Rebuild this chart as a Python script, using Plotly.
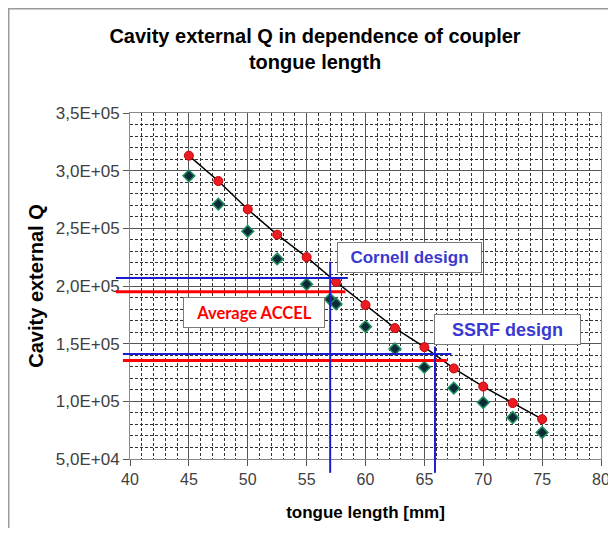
import plotly.graph_objects as go

# =====================================================
# Data
# =====================================================
tongue_len = [45, 47.5, 50, 52.5, 55, 57.5, 60, 62.5, 65, 67.5, 70, 72.5, 75]
q_red = [313000, 291000, 266500, 244500, 225000, 203500, 183500,
         163500, 147000, 128500, 112800, 98500, 84500]

tongue_len_green = [45, 47.5, 50, 52.5, 55, 57, 57.5, 60, 62.5, 65, 67.5, 70, 72.5, 75]
q_green = [295500, 271000, 247500, 223500, 201500, 188500, 184500,
           164800, 145500, 129500, 111500, 99000, 86000, 73000]

# reference levels (horizontal) and where they stop on the length axis
ref_q = [207000, 195000, 141000, 135500]
ref_q_end = [58.5, 58.3, 67.3, 66.9]
ref_q_color = ["#1c1ccf", "#ff0000", "#1c1ccf", "#ff0000"]

# reference lengths (vertical) and where they start on the Q axis
ref_len = [57.0, 65.9]
ref_len_top = [221000, 147500]

x_ticks = [40, 45, 50, 55, 60, 65, 70, 75, 80]
y_ticks = [50000, 100000, 150000, 200000, 250000, 300000, 350000]
y_tick_text = ["5,0E+04", "1,0E+05", "1,5E+05", "2,0E+05",
               "2,5E+05", "3,0E+05", "3,5E+05"]

X_RANGE = [40, 80]
Y_RANGE = [50000, 350000]


def x_dom(v):
    return (v - X_RANGE[0]) / (X_RANGE[1] - X_RANGE[0])


def y_dom(v):
    return (v - Y_RANGE[0]) / (Y_RANGE[1] - Y_RANGE[0])


fig = go.Figure()

fig.add_trace(
    go.Scatter(
        x=tongue_len_green,
        y=q_green,
        mode="markers",
        marker=dict(symbol="diamond", size=9, color="#0d2a38",
                    line=dict(color="#1f8f5c", width=1.5)),
        showlegend=False
    )
)

fig.add_trace(
    go.Scatter(
        x=tongue_len,
        y=q_red,
        mode="lines+markers",
        line=dict(color="black", width=1.5),
        marker=dict(size=9, color="#ea1c22",
                    line=dict(color="#c40000", width=1)),
        showlegend=False
    )
)

# =====================================================
# Reference lines
# =====================================================
shapes = []
for i in range(len(ref_q)):
    start = -0.03 if i < 2 else -0.015
    shapes.append(dict(
        type="line", xref="x domain", yref="y",
        x0=start, x1=x_dom(ref_q_end[i]), y0=ref_q[i], y1=ref_q[i],
        line=dict(color=ref_q_color[i], width=3 if ref_q_color[i] == "#ff0000" else 2)
    ))

for i in range(len(ref_len)):
    shapes.append(dict(
        type="line", xref="x", yref="y domain",
        x0=ref_len[i], x1=ref_len[i], y0=-0.04, y1=y_dom(ref_len_top[i]),
        line=dict(color="#1c1ccf", width=2)
    ))

# outer frame (only its left and top edges fall on the page)
shapes.append(dict(
    type="rect", xref="paper", yref="paper",
    x0=-0.258, x1=2.0, y0=-1.0, y1=1.302,
    line=dict(color="#9a9a9a", width=2)
))

box = dict(bgcolor="white", bordercolor="#7a7a7a", borderwidth=1,
           borderpad=2, showarrow=False, xref="x", yref="y")

annotations = [
    dict(text="<b>Cornell design</b>", x=63.75, y=224500, width=139, height=25,
         font=dict(family="Liberation Sans", size=17, color="#3a3ad0"), **box),
    dict(text="<b>Average ACCEL</b>", x=50.5, y=177000, width=136, height=25,
         font=dict(family="Lato", size=16.5, color="#ff0000"), **box),
    dict(text="<b>SSRF design</b>", x=72.1, y=162400, width=141, height=25,
         font=dict(family="Liberation Sans", size=18, color="#3a3ad0"), **box),
]

fig.update_layout(
    width=608,
    height=520,
    plot_bgcolor="white",
    paper_bgcolor="white",
    margin=dict(l=122, r=15, t=105, b=69),
    font=dict(family="Liberation Sans", color="#404040"),
    title=dict(
        text="<b>Cavity external Q in dependence of coupler<br>tongue length</b>",
        x=0.505,
        xanchor="center",
        y=0.933,
        yanchor="top",
        font=dict(size=20, color="black")
    ),
    shapes=shapes,
    annotations=annotations,
    showlegend=False
)

fig.update_xaxes(
    range=X_RANGE,
    tickvals=x_ticks,
    ticks="outside",
    ticklen=6,
    tickcolor="#555",
    tickfont=dict(size=16, color="#404040"),
    showline=True, linecolor="#8a8a8a", mirror=True,
    showgrid=True, gridcolor="#555", gridwidth=1,
    minor=dict(dtick=1, showgrid=True, gridcolor="#333",
               griddash="3px,2px", gridwidth=1),
    zeroline=False,
    automargin=False,
    title=dict(text="<b>tongue length [mm]</b>", standoff=18,
               font=dict(size=17, color="black"))
)

fig.update_yaxes(
    range=Y_RANGE,
    tickvals=y_ticks,
    ticktext=y_tick_text,
    ticks="outside",
    ticklen=6,
    tickcolor="#555",
    tickfont=dict(size=17, color="#404040"),
    showline=True, linecolor="#8a8a8a", mirror=True,
    showgrid=True, gridcolor="#555", gridwidth=1,
    minor=dict(dtick=10000, showgrid=True, gridcolor="#333",
               griddash="3px,2px", gridwidth=1),
    zeroline=False,
    automargin=False,
    title=dict(text="<b>Cavity external Q</b>", standoff=6,
               font=dict(size=20, color="black"))
)

fig.write_html("out.html")
